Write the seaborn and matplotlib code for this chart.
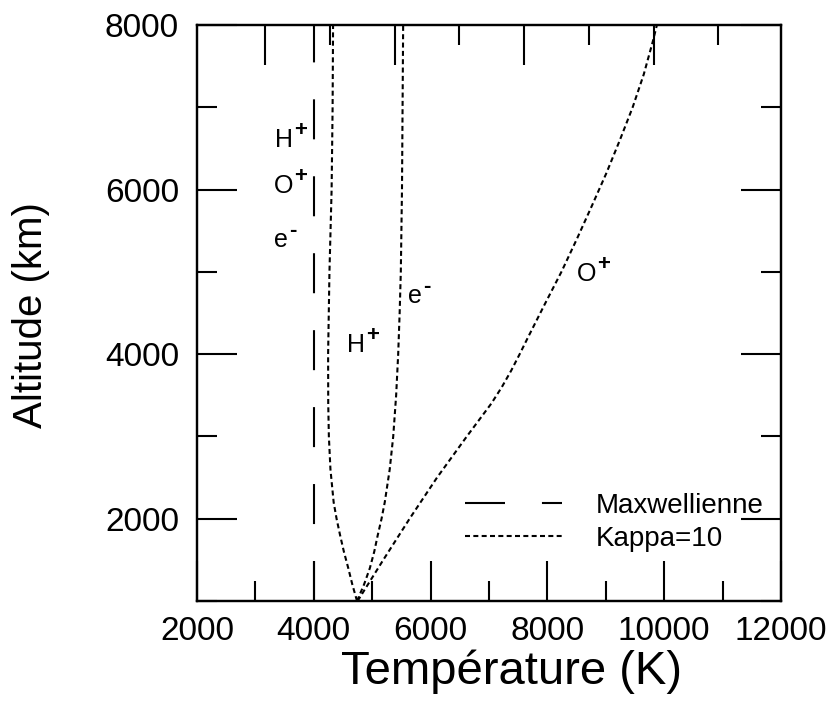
import matplotlib
matplotlib.use("Agg")
import matplotlib.pyplot as plt
import seaborn as sns
import pandas as pd
from matplotlib.ticker import MultipleLocator, FixedLocator, NullFormatter

# ---------------- data ----------------
alt_H = [1000, 1200, 1400, 1600, 1800, 2000, 2200, 2600, 3000, 3400, 4000, 5000, 6000, 7000, 8000]
T_H   = [4740, 4660, 4590, 4515, 4450, 4390, 4340, 4285, 4258, 4247, 4245, 4268, 4305, 4322, 4330]

alt_e = [1000, 1200, 1400, 1600, 1800, 2000, 2200, 2600, 3000, 3500, 4000, 4500, 5000, 6000, 7000, 8000]
T_e   = [4740, 4860, 4960, 5035, 5095, 5160, 5215, 5300, 5360, 5410, 5445, 5470, 5490, 5510, 5520, 5530]

alt_O = [1000, 1500, 2000, 2500, 3000, 3400, 3600, 3800, 4000, 4200, 4600, 5000, 5400,
         5800, 6200, 6600, 7000, 7400, 7800, 8000]
T_O   = [4750, 5190, 5640, 6110, 6620, 7040, 7220, 7380, 7525, 7665, 7950, 8240, 8505,
         8760, 9010, 9240, 9460, 9650, 9805, 9875]

alt_maxw = [1000, 8000]
T_maxw   = [4000, 4000]

legend_labels = ["Maxwellienne", "Kappa=10"]

# species labels: (base, superscript, T, altitude)
labels = [
    ("H", "+", 3340, 6516),
    ("O", "+", 3320, 5957),
    ("e", "-", 3320, 5301),
    ("H", "+", 4570, 4026),
    ("e", "-", 5615, 4621),
    ("O", "+", 8510, 4888),
]

# ---------------- style ----------------
sns.set_style("white")
plt.rcParams["font.family"] = ["Liberation Sans", "DejaVu Sans"]
plt.rcParams["lines.scale_dashes"] = False
plt.rcParams["axes.linewidth"] = 1.6
for k in ["text.color", "axes.labelcolor", "xtick.color", "ytick.color", "axes.edgecolor"]:
    plt.rcParams[k] = "black"

fig = plt.figure(figsize=(8.32, 7.05), dpi=100)
ax = fig.add_axes([197 / 832, 104 / 705, 584 / 832, 576 / 705])

kappa_dash = (3.6, 2.4)
maxw_dash = (28.8, 26.6)

df_m = pd.DataFrame({"T": T_maxw, "alt": alt_maxw})
sns.lineplot(data=df_m, x="T", y="alt", sort=False, estimator=None, color="black",
             lw=1.5, ax=ax, label=legend_labels[0])
ax.lines[-1].set_dashes(maxw_dash)

for i, (T, A) in enumerate([(T_H, alt_H), (T_e, alt_e), (T_O, alt_O)]):
    df = pd.DataFrame({"T": T, "alt": A})
    sns.lineplot(data=df, x="T", y="alt", sort=False, estimator=None, color="black",
                 lw=1.5, ax=ax, label=legend_labels[1] if i == 0 else None)
    ax.lines[-1].set_dashes(kappa_dash)

ax.set_xlim(2000, 12000)
ax.set_ylim(1000, 8000)

ax.xaxis.set_major_locator(MultipleLocator(2000))
ax.xaxis.set_minor_locator(MultipleLocator(1000))
ax.yaxis.set_major_locator(MultipleLocator(2000))
ax.yaxis.set_minor_locator(MultipleLocator(1000))

ax.tick_params(axis="both", which="major", direction="in", length=29, width=1.5,
               labelsize=24, top=False, right=True, bottom=True, left=True)
ax.tick_params(axis="both", which="minor", direction="in", length=14.5, width=1.5,
               top=False, right=True, bottom=True, left=True)
ax.tick_params(axis="x", which="major", pad=11)
ax.tick_params(axis="y", which="major", pad=13)

# top axis ticks (differently spaced in the original)
ax2 = ax.twiny()
ax2.set_xlim(-0.054, 8.97)
ax2.xaxis.set_major_locator(FixedLocator([1, 3, 5, 7]))
ax2.xaxis.set_minor_locator(FixedLocator([2, 4, 6, 8]))
ax2.xaxis.set_major_formatter(NullFormatter())
ax2.tick_params(axis="x", which="major", direction="in", length=29, width=1.5,
                top=True, bottom=False, labeltop=False, labelbottom=False)
ax2.tick_params(axis="x", which="minor", direction="in", length=14.5, width=1.5,
                top=True, bottom=False, labeltop=False, labelbottom=False)
for s in ax2.spines.values():
    s.set_linewidth(1.6)

ax.set_xlabel("Température (K)", fontsize=34)
ax.set_ylabel("Altitude (km)", fontsize=29)
ax.xaxis.set_label_coords(0.5385, -0.084)
ax.yaxis.set_label_coords(-0.2517, 0.4965)

for base, sup, T, A in labels:
    t = ax.text(T, A, base, fontsize=18, ha="left", va="baseline")
    ax.annotate(sup, xy=(1.0, 0.88), xycoords=t, xytext=(0.5, 0), textcoords="offset points",
                ha="left", va="center", fontsize=16, fontweight="bold")

leg = ax.legend(loc="upper left", bbox_to_anchor=(0.459, 0.1875), frameon=False,
                fontsize=20, handlelength=3.5, handletextpad=1.2, borderpad=0,
                borderaxespad=0, labelspacing=0.25)

fig.savefig("out.png", dpi=100)
